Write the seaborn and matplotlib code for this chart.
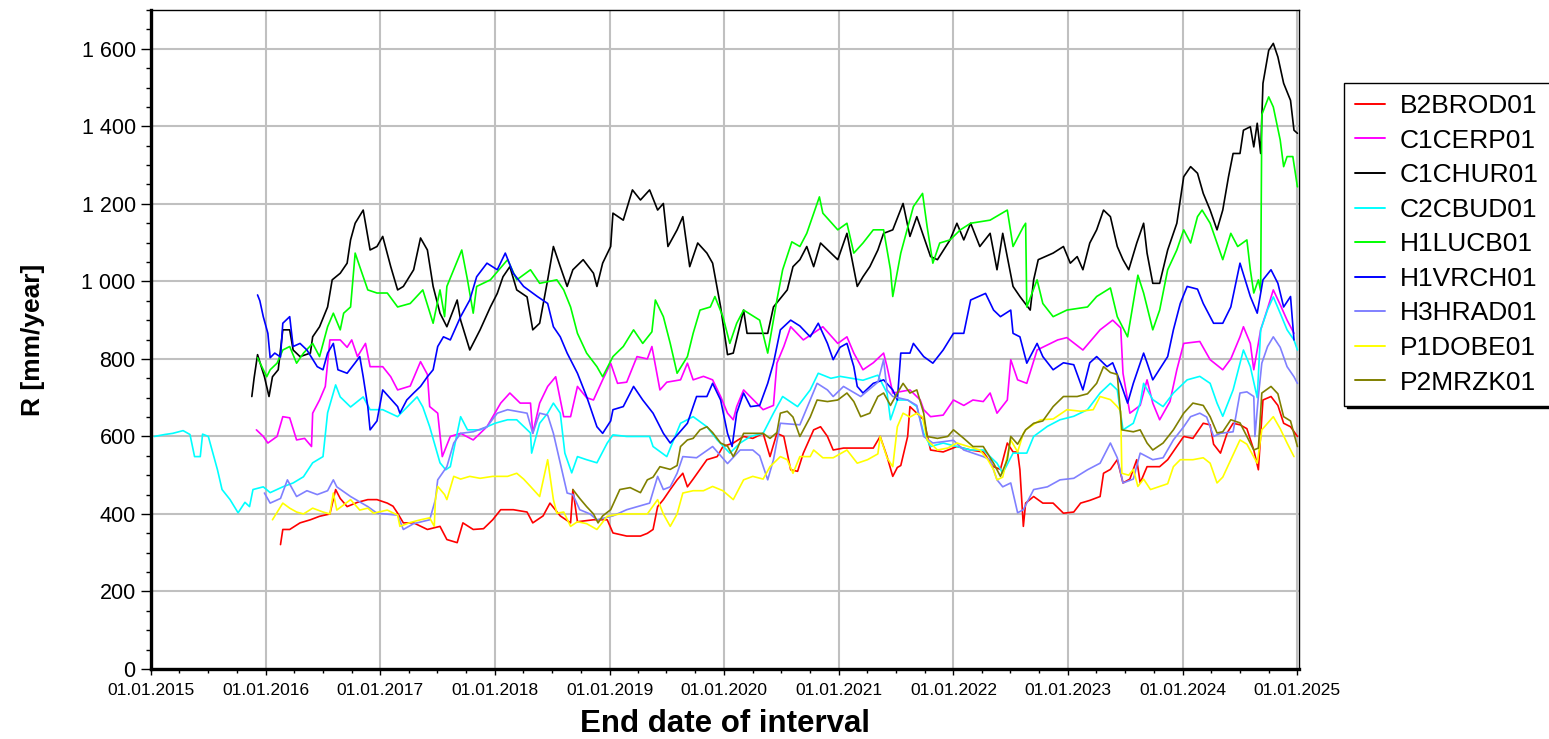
import pandas as pd
import matplotlib
matplotlib.use("Agg")
import matplotlib.pyplot as plt
import matplotlib.dates as mdates
import matplotlib.ticker as mticker
from matplotlib.lines import Line2D
import seaborn as sns

# ---------------------------------------------------------------
# Data: end date of interval (decimal year) and R [mm/year]
# ---------------------------------------------------------------
stations = ["B2BROD01", "C1CERP01", "C1CHUR01", "C2CBUD01", "H1LUCB01",
            "H1VRCH01", "H3HRAD01", "P1DOBE01", "P2MRZK01"]

colors = ["#FF0000", "#FF00FF", "#000000", "#00FFFF", "#00FF00",
          "#0000FF", "#8080FF", "#FFFF00", "#808000"]

t_b2brod = [2016.13, 2016.15, 2016.21, 2016.30, 2016.39, 2016.47, 2016.56, 2016.61, 2016.65, 2016.71,
            2016.80, 2016.89, 2016.97, 2017.06, 2017.11, 2017.15, 2017.20, 2017.29, 2017.41, 2017.52,
            2017.58, 2017.67, 2017.72, 2017.81, 2017.90, 2017.98, 2018.05, 2018.16, 2018.28, 2018.33,
            2018.42, 2018.48, 2018.57, 2018.66, 2018.68, 2018.72, 2018.86, 2018.98, 2019.03, 2019.15,
            2019.27, 2019.33, 2019.38, 2019.42, 2019.47, 2019.53, 2019.59, 2019.64, 2019.68, 2019.73,
            2019.79, 2019.85, 2019.94, 2019.99, 2020.08, 2020.17, 2020.25, 2020.34, 2020.40, 2020.46,
            2020.52, 2020.58, 2020.64, 2020.69, 2020.78, 2020.84, 2020.90, 2020.95, 2021.04, 2021.13,
            2021.21, 2021.30, 2021.36, 2021.42, 2021.47, 2021.51, 2021.54, 2021.60, 2021.62, 2021.68,
            2021.74, 2021.80, 2021.91, 2022.03, 2022.15, 2022.26, 2022.35, 2022.41, 2022.47, 2022.52,
            2022.56, 2022.58, 2022.61, 2022.63, 2022.70, 2022.78, 2022.87, 2022.96, 2023.05, 2023.11,
            2023.19, 2023.28, 2023.31, 2023.37, 2023.43, 2023.48, 2023.54, 2023.60, 2023.63, 2023.69,
            2023.80, 2023.87, 2023.95, 2024.01, 2024.09, 2024.18, 2024.24, 2024.27, 2024.33, 2024.39,
            2024.44, 2024.50, 2024.56, 2024.62, 2024.66, 2024.70, 2024.77, 2024.83, 2024.88, 2024.94,
            2025.00]
r_b2brod = [321, 360, 360, 377, 385, 394, 400, 463, 440, 419,
            430, 437, 437, 428, 420, 402, 377, 377, 360, 368,
            334, 326, 377, 360, 362, 385, 411, 411, 405, 377,
            395, 428, 395, 377, 463, 380, 385, 385, 351, 343,
            343, 350, 360, 419, 437, 463, 488, 505, 470, 490,
            515, 540, 548, 574, 583, 600, 595, 608, 548, 608,
            600, 514, 510, 557, 617, 625, 600, 565, 570, 570,
            570, 570, 600, 548, 497, 520, 525, 600, 677, 660,
            643, 565, 560, 574, 565, 560, 522, 515, 583, 560,
            560, 514, 368, 428, 445, 428, 428, 402, 405, 428,
            435, 445, 505, 515, 540, 480, 490, 540, 480, 522,
            522, 540, 574, 600, 595, 634, 630, 580, 557, 610,
            634, 630, 620, 565, 514, 694, 703, 680, 634, 625,
            600]

t_c1cerp = [2015.92, 2015.98, 2016.02, 2016.10, 2016.15, 2016.21, 2016.27, 2016.34, 2016.40, 2016.41,
            2016.47, 2016.52, 2016.56, 2016.65, 2016.71, 2016.75, 2016.80, 2016.87, 2016.91, 2017.02,
            2017.09, 2017.15, 2017.26, 2017.35, 2017.41, 2017.43, 2017.50, 2017.54, 2017.61, 2017.70,
            2017.81, 2017.93, 2018.05, 2018.13, 2018.22, 2018.31, 2018.33, 2018.39, 2018.46, 2018.53,
            2018.60, 2018.66, 2018.72, 2018.80, 2018.86, 2018.94, 2019.01, 2019.07, 2019.15, 2019.24,
            2019.33, 2019.37, 2019.44, 2019.50, 2019.62, 2019.68, 2019.73, 2019.82, 2019.90, 2019.97,
            2020.03, 2020.08, 2020.11, 2020.17, 2020.34, 2020.43, 2020.46, 2020.52, 2020.58, 2020.69,
            2020.86, 2020.99, 2021.07, 2021.13, 2021.21, 2021.30, 2021.39, 2021.42, 2021.47, 2021.62,
            2021.71, 2021.74, 2021.80, 2021.91, 2022.00, 2022.09, 2022.17, 2022.26, 2022.32, 2022.38,
            2022.47, 2022.50, 2022.56, 2022.64, 2022.73, 2022.91, 2022.99, 2023.13, 2023.28, 2023.39,
            2023.46, 2023.48, 2023.54, 2023.63, 2023.69, 2023.74, 2023.80, 2023.89, 2023.95, 2024.01,
            2024.15, 2024.24, 2024.35, 2024.42, 2024.50, 2024.53, 2024.59, 2024.62, 2024.68, 2024.74,
            2024.79, 2024.85, 2024.91, 2024.97]
r_c1cerp = [617, 600, 583, 600, 651, 648, 591, 595, 574, 660,
            694, 729, 849, 849, 830, 849, 806, 840, 780, 780,
            754, 720, 730, 793, 760, 677, 660, 548, 600, 608,
            591, 625, 686, 712, 686, 686, 608, 686, 729, 754,
            651, 651, 729, 700, 694, 746, 789, 737, 740, 806,
            800, 832, 720, 740, 746, 789, 746, 755, 746, 703,
            660, 643, 677, 720, 669, 680, 789, 832, 883, 849,
            883, 840, 857, 815, 772, 790, 815, 780, 712, 720,
            694, 669, 651, 655, 694, 680, 694, 690, 712, 660,
            694, 798, 746, 737, 823, 849, 855, 823, 875, 900,
            880, 763, 660, 680, 746, 686, 643, 690, 772, 840,
            845, 798, 772, 800, 857, 883, 840, 772, 875, 930,
            978, 940, 900, 866]

t_c1chur = [2015.88, 2015.90, 2015.93, 2015.99, 2016.03, 2016.06, 2016.11, 2016.15, 2016.21, 2016.24,
            2016.30, 2016.39, 2016.41, 2016.47, 2016.54, 2016.58, 2016.65, 2016.71, 2016.74, 2016.78,
            2016.85, 2016.91, 2016.97, 2017.02, 2017.09, 2017.15, 2017.20, 2017.29, 2017.35, 2017.41,
            2017.46, 2017.52, 2017.58, 2017.67, 2017.70, 2017.78, 2017.87, 2017.96, 2018.02, 2018.07,
            2018.13, 2018.19, 2018.28, 2018.33, 2018.39, 2018.46, 2018.51, 2018.57, 2018.63, 2018.68,
            2018.77, 2018.86, 2018.89, 2018.94, 2019.01, 2019.03, 2019.12, 2019.20, 2019.27, 2019.35,
            2019.42, 2019.47, 2019.51, 2019.59, 2019.64, 2019.70, 2019.77, 2019.85, 2019.90, 2019.97,
            2020.03, 2020.08, 2020.17, 2020.20, 2020.38, 2020.43, 2020.55, 2020.60, 2020.66, 2020.72,
            2020.78, 2020.84, 2020.99, 2021.07, 2021.16, 2021.21, 2021.27, 2021.34, 2021.39, 2021.47,
            2021.56, 2021.62, 2021.68, 2021.80, 2021.86, 2021.97, 2022.03, 2022.09, 2022.15, 2022.23,
            2022.32, 2022.38, 2022.43, 2022.52, 2022.58, 2022.67, 2022.70, 2022.74, 2022.87, 2022.96,
            2023.02, 2023.08, 2023.13, 2023.19, 2023.25, 2023.31, 2023.37, 2023.43, 2023.48, 2023.53,
            2023.60, 2023.66, 2023.69, 2023.74, 2023.80, 2023.87, 2023.95, 2024.01, 2024.07, 2024.13,
            2024.18, 2024.24, 2024.30, 2024.35, 2024.40, 2024.44, 2024.50, 2024.53, 2024.59, 2024.62,
            2024.65, 2024.68, 2024.70, 2024.75, 2024.79, 2024.83, 2024.88, 2024.94, 2024.97, 2025.00]
r_c1chur = [703, 751, 811, 754, 703, 754, 772, 875, 875, 823,
            806, 815, 857, 883, 934, 1004, 1021, 1047, 1107, 1150,
            1184, 1081, 1090, 1116, 1038, 978, 987, 1030, 1112, 1081,
            987, 918, 883, 952, 900, 823, 875, 934, 969, 1012,
            1038, 978, 960, 875, 892, 1004, 1090, 1038, 987, 1030,
            1056, 1021, 987, 1047, 1090, 1176, 1158, 1236, 1210, 1236,
            1184, 1201, 1090, 1133, 1167, 1038, 1099, 1073, 1047, 934,
            811, 815, 926, 866, 866, 934, 978, 1038, 1056, 1090,
            1038, 1099, 1056, 1124, 987, 1012, 1038, 1081, 1124, 1133,
            1201, 1116, 1167, 1064, 1056, 1107, 1150, 1107, 1150, 1090,
            1124, 1030, 1124, 987, 961, 926, 1004, 1056, 1073, 1090,
            1047, 1064, 1030, 1099, 1133, 1184, 1167, 1090, 1056, 1030,
            1099, 1150, 1073, 995, 995, 1081, 1150, 1270, 1296, 1279,
            1227, 1184, 1133, 1184, 1270, 1330, 1330, 1390, 1399, 1347,
            1408, 1330, 1511, 1596, 1614, 1579, 1511, 1467, 1390, 1382]

t_c2cbud = [2015.03, 2015.12, 2015.19, 2015.28, 2015.34, 2015.38, 2015.43, 2015.45, 2015.50, 2015.54,
            2015.58, 2015.62, 2015.69, 2015.76, 2015.82, 2015.86, 2015.89, 2015.98, 2016.04, 2016.15,
            2016.24, 2016.33, 2016.41, 2016.50, 2016.54, 2016.61, 2016.65, 2016.74, 2016.85, 2016.91,
            2017.02, 2017.15, 2017.32, 2017.37, 2017.43, 2017.52, 2017.57, 2017.61, 2017.70, 2017.76,
            2017.87, 2018.00, 2018.11, 2018.19, 2018.31, 2018.32, 2018.39, 2018.46, 2018.51, 2018.57,
            2018.61, 2018.67, 2018.72, 2018.80, 2018.89, 2018.98, 2019.03, 2019.15, 2019.27, 2019.35,
            2019.38, 2019.50, 2019.62, 2019.73, 2019.85, 2019.94, 2020.05, 2020.14, 2020.23, 2020.34,
            2020.43, 2020.51, 2020.64, 2020.75, 2020.82, 2020.93, 2021.01, 2021.21, 2021.34, 2021.42,
            2021.45, 2021.51, 2021.60, 2021.68, 2021.74, 2021.80, 2021.91, 2022.03, 2022.15, 2022.26,
            2022.38, 2022.43, 2022.52, 2022.64, 2022.70, 2022.82, 2022.93, 2023.05, 2023.17, 2023.28,
            2023.37, 2023.43, 2023.48, 2023.57, 2023.63, 2023.66, 2023.74, 2023.83, 2023.92, 2024.04,
            2024.15, 2024.24, 2024.30, 2024.35, 2024.44, 2024.53, 2024.59, 2024.65, 2024.68, 2024.74,
            2024.79, 2024.85, 2024.91, 2024.97, 2025.00]
r_c2cbud = [600, 605, 608, 615, 605, 548, 548, 606, 600, 557,
            514, 463, 437, 403, 430, 419, 463, 470, 455, 470,
            480, 496, 532, 548, 661, 733, 702, 676, 702, 669,
            669, 651, 702, 676, 625, 532, 514, 522, 651, 617,
            617, 634, 643, 643, 609, 557, 634, 660, 686, 660,
            557, 506, 548, 540, 532, 583, 604, 600, 600, 600,
            574, 548, 634, 651, 625, 591, 557, 583, 600, 608,
            660, 703, 677, 720, 763, 750, 755, 745, 758, 712,
            643, 694, 694, 677, 608, 574, 583, 574, 565, 565,
            531, 505, 557, 557, 600, 626, 643, 652, 669, 712,
            737, 720, 617, 634, 686, 737, 695, 677, 712, 746,
            755, 737, 686, 652, 720, 823, 780, 700, 875, 927,
            960, 918, 875, 849, 823]

t_h1lucb = [2015.93, 2016.01, 2016.04, 2016.10, 2016.15, 2016.21, 2016.27, 2016.33, 2016.41, 2016.47,
            2016.54, 2016.59, 2016.65, 2016.68, 2016.74, 2016.78, 2016.82, 2016.89, 2016.97, 2017.06,
            2017.15, 2017.26, 2017.37, 2017.46, 2017.52, 2017.56, 2017.58, 2017.71, 2017.76, 2017.81,
            2017.84, 2017.96, 2018.11, 2018.19, 2018.31, 2018.39, 2018.54, 2018.60, 2018.66, 2018.72,
            2018.80, 2018.89, 2018.94, 2019.03, 2019.12, 2019.21, 2019.29, 2019.37, 2019.40, 2019.47,
            2019.53, 2019.59, 2019.68, 2019.73, 2019.79, 2019.88, 2019.92, 2019.99, 2020.05, 2020.11,
            2020.17, 2020.31, 2020.38, 2020.46, 2020.51, 2020.59, 2020.66, 2020.72, 2020.83, 2020.86,
            2020.99, 2021.07, 2021.13, 2021.21, 2021.30, 2021.39, 2021.45, 2021.47, 2021.54, 2021.65,
            2021.73, 2021.77, 2021.82, 2021.88, 2021.97, 2022.06, 2022.15, 2022.32, 2022.47, 2022.52,
            2022.61, 2022.63, 2022.64, 2022.73, 2022.78, 2022.87, 2022.99, 2023.17, 2023.25, 2023.37,
            2023.43, 2023.52, 2023.61, 2023.66, 2023.74, 2023.80, 2023.87, 2023.95, 2024.01, 2024.07,
            2024.13, 2024.17, 2024.24, 2024.30, 2024.35, 2024.42, 2024.48, 2024.56, 2024.59, 2024.62,
            2024.66, 2024.68, 2024.69, 2024.75, 2024.79, 2024.85, 2024.88, 2024.91, 2024.96, 2025.00]
r_h1lucb = [803, 754, 772, 789, 823, 832, 789, 815, 840, 806,
            883, 918, 875, 918, 934, 1073, 1038, 978, 970, 970,
            934, 943, 978, 892, 978, 909, 987, 1081, 1004, 918,
            987, 1004, 1056, 1004, 1030, 995, 1004, 978, 934, 866,
            815, 780, 754, 806, 832, 875, 840, 870, 952, 909,
            840, 763, 806, 866, 926, 934, 961, 909, 840, 892,
            926, 900, 815, 952, 1030, 1102, 1090, 1124, 1218, 1176,
            1133, 1150, 1073, 1099, 1133, 1133, 1030, 961, 1073, 1193,
            1227, 1141, 1047, 1099, 1107, 1133, 1150, 1158, 1184, 1090,
            1141, 1150, 934, 1004, 943, 909, 926, 934, 961, 983,
            909, 857, 1016, 970, 875, 926, 1030, 1081, 1133, 1099,
            1167, 1184, 1150, 1099, 1056, 1124, 1090, 1107, 1030, 970,
            1004, 975, 1430, 1476, 1450, 1365, 1296, 1322, 1322, 1244]

t_h1vrch = [2015.93, 2015.95, 2015.98, 2016.02, 2016.04, 2016.08, 2016.13, 2016.15, 2016.21, 2016.24,
            2016.30, 2016.36, 2016.45, 2016.50, 2016.54, 2016.59, 2016.63, 2016.71, 2016.78, 2016.82,
            2016.85, 2016.89, 2016.91, 2016.97, 2017.02, 2017.15, 2017.17, 2017.23, 2017.29, 2017.35,
            2017.41, 2017.46, 2017.50, 2017.55, 2017.61, 2017.70, 2017.78, 2017.84, 2017.93, 2018.02,
            2018.09, 2018.16, 2018.25, 2018.37, 2018.46, 2018.51, 2018.57, 2018.63, 2018.72, 2018.80,
            2018.89, 2018.94, 2019.01, 2019.03, 2019.12, 2019.21, 2019.29, 2019.38, 2019.47, 2019.53,
            2019.68, 2019.76, 2019.85, 2019.90, 2019.97, 2020.03, 2020.07, 2020.11, 2020.17, 2020.23,
            2020.31, 2020.38, 2020.43, 2020.49, 2020.58, 2020.66, 2020.75, 2020.82, 2020.90, 2020.95,
            2021.01, 2021.07, 2021.13, 2021.16, 2021.21, 2021.30, 2021.39, 2021.47, 2021.51, 2021.54,
            2021.62, 2021.65, 2021.74, 2021.82, 2021.91, 2022.00, 2022.09, 2022.15, 2022.28, 2022.35,
            2022.41, 2022.50, 2022.52, 2022.58, 2022.64, 2022.73, 2022.78, 2022.87, 2022.96, 2023.05,
            2023.13, 2023.19, 2023.25, 2023.34, 2023.39, 2023.46, 2023.52, 2023.57, 2023.66, 2023.69,
            2023.74, 2023.87, 2023.92, 2023.98, 2024.04, 2024.13, 2024.18, 2024.27, 2024.35, 2024.42,
            2024.50, 2024.59, 2024.65, 2024.70, 2024.77, 2024.83, 2024.88, 2024.94, 2024.97]
r_h1vrch = [965, 950, 909, 866, 803, 815, 805, 892, 909, 832,
            840, 823, 780, 772, 815, 840, 772, 763, 790, 806,
            754, 677, 617, 640, 720, 677, 660, 694, 712, 729,
            754, 772, 832, 857, 849, 909, 952, 1012, 1047, 1030,
            1073, 1021, 987, 961, 943, 883, 857, 815, 763, 703,
            625, 608, 640, 669, 677, 729, 694, 660, 608, 583,
            634, 703, 703, 737, 694, 608, 574, 660, 712, 677,
            680, 737, 789, 875, 900, 885, 857, 892, 840, 798,
            830, 840, 780, 729, 712, 737, 746, 720, 694, 815,
            815, 840, 806, 789, 823, 866, 866, 952, 969, 926,
            909, 926, 866, 857, 789, 840, 806, 772, 790, 785,
            720, 790, 806, 780, 790, 737, 686, 737, 815, 790,
            746, 806, 875, 943, 987, 980, 943, 892, 892, 934,
            1047, 961, 918, 1004, 1030, 995, 934, 961, 849]

t_h3hrad = [2015.99, 2016.04, 2016.13, 2016.19, 2016.27, 2016.36, 2016.45, 2016.54, 2016.59, 2016.62,
            2016.74, 2016.89, 2016.97, 2017.15, 2017.20, 2017.29, 2017.43, 2017.48, 2017.50, 2017.58,
            2017.64, 2017.70, 2017.81, 2017.93, 2018.02, 2018.11, 2018.28, 2018.33, 2018.39, 2018.46,
            2018.51, 2018.57, 2018.63, 2018.68, 2018.74, 2018.83, 2018.89, 2019.03, 2019.15, 2019.35,
            2019.42, 2019.47, 2019.53, 2019.59, 2019.64, 2019.76, 2019.90, 2020.03, 2020.14, 2020.25,
            2020.31, 2020.38, 2020.43, 2020.49, 2020.66, 2020.75, 2020.81, 2020.90, 2020.95, 2021.04,
            2021.19, 2021.34, 2021.39, 2021.42, 2021.47, 2021.60, 2021.68, 2021.74, 2021.82, 2022.00,
            2022.09, 2022.26, 2022.32, 2022.38, 2022.43, 2022.50, 2022.56, 2022.61, 2022.70, 2022.82,
            2022.93, 2023.05, 2023.17, 2023.28, 2023.37, 2023.43, 2023.48, 2023.57, 2023.63, 2023.74,
            2023.83, 2023.92, 2024.01, 2024.07, 2024.15, 2024.21, 2024.27, 2024.33, 2024.44, 2024.50,
            2024.56, 2024.62, 2024.63, 2024.66, 2024.69, 2024.74, 2024.79, 2024.85, 2024.91, 2024.97,
            2025.00]
r_h3hrad = [454, 428, 440, 488, 445, 460, 450, 460, 488, 470,
            445, 419, 402, 397, 360, 375, 385, 437, 488, 522,
            583, 608, 612, 625, 660, 669, 660, 608, 660, 655,
            608, 531, 454, 450, 411, 400, 385, 395, 411, 428,
            497, 463, 470, 505, 548, 545, 574, 530, 565, 565,
            550, 488, 540, 634, 630, 694, 737, 720, 703, 729,
            703, 740, 798, 720, 703, 694, 680, 600, 583, 590,
            565, 548, 540, 488, 470, 480, 403, 411, 463, 470,
            488, 492, 514, 531, 583, 545, 480, 490, 557, 540,
            545, 591, 625, 651, 660, 650, 600, 608, 612, 712,
            715, 703, 600, 703, 789, 832, 857, 830, 780, 754,
            737]

t_p1dobe = [2016.06, 2016.15, 2016.21, 2016.27, 2016.33, 2016.41, 2016.50, 2016.56, 2016.59, 2016.62,
            2016.74, 2016.82, 2016.89, 2016.94, 2017.06, 2017.15, 2017.17, 2017.26, 2017.35, 2017.43,
            2017.47, 2017.48, 2017.50, 2017.56, 2017.58, 2017.64, 2017.70, 2017.78, 2017.87, 2017.98,
            2018.11, 2018.19, 2018.25, 2018.31, 2018.39, 2018.46, 2018.51, 2018.54, 2018.60, 2018.66,
            2018.72, 2018.80, 2018.89, 2018.98, 2019.09, 2019.21, 2019.33, 2019.42, 2019.47, 2019.53,
            2019.59, 2019.64, 2019.73, 2019.82, 2019.90, 2019.99, 2020.08, 2020.17, 2020.25, 2020.34,
            2020.40, 2020.49, 2020.55, 2020.60, 2020.66, 2020.75, 2020.78, 2020.86, 2020.95, 2021.07,
            2021.16, 2021.25, 2021.34, 2021.36, 2021.42, 2021.47, 2021.51, 2021.56, 2021.62, 2021.68,
            2021.73, 2021.77, 2021.86, 2021.95, 2022.03, 2022.12, 2022.23, 2022.30, 2022.35, 2022.38,
            2022.43, 2022.50, 2022.56, 2022.61, 2022.63, 2022.76, 2022.87, 2022.99, 2023.11, 2023.22,
            2023.28, 2023.37, 2023.43, 2023.46, 2023.47, 2023.53, 2023.57, 2023.61, 2023.66, 2023.72,
            2023.80, 2023.87, 2023.92, 2023.98, 2024.09, 2024.18, 2024.24, 2024.30, 2024.35, 2024.42,
            2024.50, 2024.56, 2024.65, 2024.69, 2024.74, 2024.79, 2024.85, 2024.91, 2024.97]
r_p1dobe = [385, 428, 415, 405, 400, 415, 405, 400, 454, 410,
            437, 410, 415, 402, 410, 397, 368, 378, 385, 390,
            368, 437, 471, 450, 437, 497, 490, 497, 492, 497,
            497, 505, 490, 471, 445, 540, 437, 402, 405, 368,
            380, 375, 360, 394, 400, 400, 400, 437, 400, 368,
            400, 454, 460, 460, 471, 460, 437, 488, 497, 490,
            522, 548, 540, 505, 548, 548, 565, 545, 545, 565,
            531, 540, 555, 600, 545, 522, 625, 660, 650, 660,
            650, 591, 565, 570, 583, 575, 565, 540, 514, 488,
            495, 591, 560, 608, 617, 643, 645, 669, 665, 669,
            703, 695, 677, 665, 505, 500, 515, 471, 490, 463,
            471, 478, 522, 540, 540, 545, 531, 480, 495, 540,
            591, 580, 531, 617, 634, 651, 620, 583, 548]

t_p2mrzk = [2018.68, 2018.74, 2018.80, 2018.86, 2018.90, 2018.94, 2019.01, 2019.09, 2019.18, 2019.27,
            2019.33, 2019.38, 2019.44, 2019.53, 2019.59, 2019.62, 2019.68, 2019.73, 2019.79, 2019.85,
            2019.90, 2019.97, 2020.03, 2020.08, 2020.11, 2020.17, 2020.25, 2020.34, 2020.40, 2020.46,
            2020.49, 2020.55, 2020.60, 2020.66, 2020.75, 2020.81, 2020.90, 2020.99, 2021.07, 2021.13,
            2021.19, 2021.27, 2021.34, 2021.39, 2021.45, 2021.51, 2021.56, 2021.62, 2021.68, 2021.74,
            2021.77, 2021.86, 2021.95, 2022.00, 2022.09, 2022.17, 2022.26, 2022.35, 2022.41, 2022.47,
            2022.50, 2022.56, 2022.63, 2022.70, 2022.78, 2022.87, 2022.96, 2023.08, 2023.17, 2023.25,
            2023.31, 2023.37, 2023.43, 2023.47, 2023.57, 2023.63, 2023.69, 2023.74, 2023.83, 2023.92,
            2024.01, 2024.09, 2024.18, 2024.24, 2024.30, 2024.35, 2024.42, 2024.50, 2024.56, 2024.62,
            2024.66, 2024.69, 2024.77, 2024.83, 2024.88, 2024.94, 2025.00]
r_p2mrzk = [463, 440, 419, 400, 377, 395, 411, 463, 468, 455,
            488, 495, 522, 515, 525, 574, 591, 595, 617, 625,
            610, 583, 575, 548, 565, 608, 608, 608, 595, 610,
            660, 665, 650, 600, 650, 694, 690, 694, 712, 690,
            651, 660, 703, 712, 680, 712, 737, 712, 720, 660,
            600, 595, 600, 617, 595, 574, 574, 531, 497, 540,
            600, 580, 617, 634, 640, 677, 703, 703, 710, 737,
            780, 765, 760, 617, 612, 617, 583, 565, 583, 617,
            660, 686, 680, 651, 609, 612, 643, 635, 600, 565,
            570, 712, 729, 710, 651, 640, 574]


def year_to_date(y):
    yr = int(y)
    start = pd.Timestamp(yr, 1, 1)
    return start + (pd.Timestamp(yr + 1, 1, 1) - start) * (y - yr)


series = {
    "B2BROD01": (t_b2brod, r_b2brod),
    "C1CERP01": (t_c1cerp, r_c1cerp),
    "C1CHUR01": (t_c1chur, r_c1chur),
    "C2CBUD01": (t_c2cbud, r_c2cbud),
    "H1LUCB01": (t_h1lucb, r_h1lucb),
    "H1VRCH01": (t_h1vrch, r_h1vrch),
    "H3HRAD01": (t_h3hrad, r_h3hrad),
    "P1DOBE01": (t_p1dobe, r_p1dobe),
    "P2MRZK01": (t_p2mrzk, r_p2mrzk),
}

frames = []
for name, (t, r) in series.items():
    frames.append(pd.DataFrame({"date": [year_to_date(v) for v in t],
                                "R": r, "station": name}))
df = pd.concat(frames, ignore_index=True)

# ---------------------------------------------------------------
# Plot
# ---------------------------------------------------------------
sns.set_theme(style="white")
plt.rcParams["font.family"] = ["Liberation Sans", "DejaVu Sans"]
plt.rcParams["text.color"] = "black"
plt.rcParams["axes.labelcolor"] = "black"
plt.rcParams["xtick.color"] = "black"
plt.rcParams["ytick.color"] = "black"

palette = dict(zip(stations, colors))

fig = plt.figure(figsize=(15.49, 7.39), dpi=100)
ax = fig.add_axes([0.0975, 0.0947, 0.7411, 0.8917])

sns.lineplot(data=df, x="date", y="R", hue="station", hue_order=stations,
             palette=palette, estimator=None, sort=False, linewidth=1.2,
             legend=False, ax=ax)

ax.set_xlim(pd.Timestamp(2015, 1, 1), pd.Timestamp(2025, 1, 6))
ax.set_ylim(0, 1700)

ax.xaxis.set_major_locator(mdates.YearLocator())
ax.xaxis.set_minor_locator(mdates.MonthLocator(bymonth=[4, 7, 10]))
ax.xaxis.set_major_formatter(mdates.DateFormatter("%d.%m.%Y"))
ax.yaxis.set_major_locator(mticker.MultipleLocator(200))
ax.yaxis.set_minor_locator(mticker.MultipleLocator(50))
ax.yaxis.set_major_formatter(mticker.FuncFormatter(lambda v, _: f"{v:,.0f}".replace(",", " ")))

ax.grid(True, which="major", color="#c0c0c0", linewidth=1.5)
ax.set_axisbelow(True)

for side in ["left", "bottom"]:
    ax.spines[side].set_linewidth(2.4)
    ax.spines[side].set_color("black")
for side in ["top", "right"]:
    ax.spines[side].set_linewidth(1.0)
    ax.spines[side].set_color("black")

ax.tick_params(axis="y", which="major", direction="out", length=7, width=1,
               color="black", labelcolor="black", labelsize=15.5, pad=4, left=True)
ax.tick_params(axis="y", which="minor", direction="out", length=3.5, width=1,
               color="black", left=True)
ax.tick_params(axis="x", which="major", direction="out", length=4, width=1,
               color="black", labelcolor="black", labelsize=12.5, pad=6, bottom=True)
ax.tick_params(axis="x", which="minor", direction="out", length=3, width=1,
               color="black", bottom=True)

ax.set_xlabel("End date of interval", fontsize=22.5, fontweight="bold",
              labelpad=8, color="black")
ax.set_ylabel("R [mm/year]", fontsize=19, fontweight="bold",
              labelpad=26, color="black")

handles = [Line2D([0], [0], color=c, linewidth=1.4) for c in colors]
leg = fig.legend(handles, stations, loc="upper left",
                 bbox_to_anchor=(1344 / 1549, 1 - 83 / 739),
                 fontsize=19, frameon=True, fancybox=False,
                 shadow={"color": "black", "alpha": 1.0},
                 handlelength=1.15, handletextpad=0.55, labelspacing=0.4,
                 borderpad=0.42, borderaxespad=0)
leg.get_frame().set_edgecolor("black")
leg.get_frame().set_linewidth(1.0)
for txt in leg.get_texts():
    txt.set_color("black")

fig.savefig("out.png", dpi=100)
